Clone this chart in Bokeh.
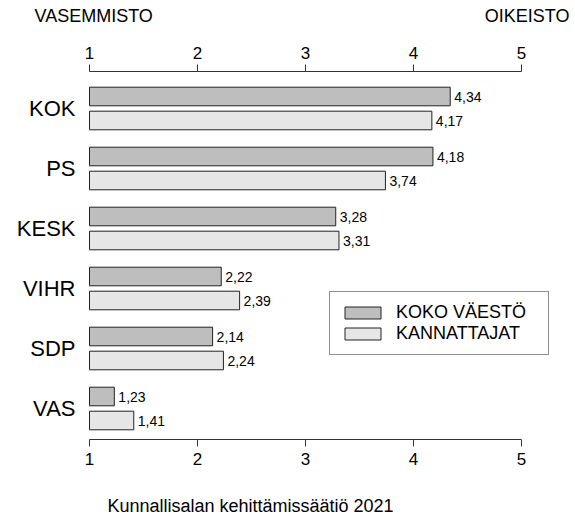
from bokeh.plotting import figure
from bokeh.models import (Range1d, LinearAxis, FixedTicker, Legend,
                          LegendItem, ColumnDataSource, Label)
from bokeh.embed import file_html
from bokeh.resources import INLINE
from bokeh.core.properties import value

# ---- data ----
parties = ["KOK", "PS", "KESK", "VIHR", "SDP", "VAS"]
koko_vaesto = [4.34, 4.18, 3.28, 2.22, 2.14, 1.23]
kannattajat = [4.17, 3.74, 3.31, 2.39, 2.24, 1.41]
x_ticks = [1, 2, 3, 4, 5]
series_names = ["KOKO VÄESTÖ", "KANNATTAJAT"]
left_title = "VASEMMISTO"
right_title = "OIKEISTO"
footer = "Kunnallisalan kehittämissäätiö 2021"

FONT = "Liberation Sans"
DARK = "#bebebe"
LIGHT = "#e6e6e6"
EDGE = "#222222"
AXIS = "#333333"

W, H = 575, 517
XU = 108.0     # pixels per x unit
X1 = 89.0      # pixel column of x = 1
YU = 60.0      # pixels per party row
Y_TOP_ROW = 108.0   # pixel row of the first party's centre

n = len(parties)
ypos = [n - 1 - i for i in range(n)]
off = 0.2
bh = 0.31


def fx(px):
    return 1 + (px - X1) / XU


def fy(py):
    return (n - 1) + (Y_TOP_ROW - py) / YU


def fmt(v):
    return f"{v:.2f}".replace(".", ",")


src_a = ColumnDataSource(dict(y=[y + off for y in ypos], right=koko_vaesto,
                              lab=[fmt(v) for v in koko_vaesto]))
src_b = ColumnDataSource(dict(y=[y - off for y in ypos], right=kannattajat,
                              lab=[fmt(v) for v in kannattajat]))

p = figure(width=W, height=H, output_backend="svg", toolbar_location=None,
           x_axis_type=None, y_axis_type=None,
           x_range=Range1d(fx(0), fx(W)), y_range=Range1d(fy(H), fy(0)),
           min_border_left=0, min_border_right=0,
           min_border_top=0, min_border_bottom=0)
p.outline_line_color = None
p.xgrid.visible = False
p.ygrid.visible = False
p.background_fill_color = "white"
p.border_fill_color = "white"

ra = p.hbar(y="y", right="right", left=1, height=bh, source=src_a,
            fill_color=DARK, line_color=EDGE, line_width=1)
rb = p.hbar(y="y", right="right", left=1, height=bh, source=src_b,
            fill_color=LIGHT, line_color=EDGE, line_width=1)

for s in (src_a, src_b):
    p.text(x="right", y="y", text="lab", source=s, x_offset=4,
           text_baseline="middle", text_align="left",
           text_font=value(FONT), text_font_size="14px", text_color="black")


def x_axis(loc):
    ax = LinearAxis(fixed_location=loc)
    ax.ticker = FixedTicker(ticks=x_ticks)
    ax.bounds = (x_ticks[0], x_ticks[-1])
    ax.axis_line_color = AXIS
    ax.major_tick_line_color = AXIS
    ax.major_tick_out = 7
    ax.major_tick_in = 0
    ax.minor_tick_line_color = None
    ax.major_label_text_font = FONT
    ax.major_label_text_font_size = "17px"
    ax.major_label_text_color = "black"
    ax.major_label_standoff = 6
    return ax


p.add_layout(x_axis(fy(71)), "above")
p.add_layout(x_axis(fy(439)), "below")

ya = LinearAxis(fixed_location=fx(81))
ya.ticker = FixedTicker(ticks=ypos)
ya.major_label_overrides = {y: name for y, name in zip(ypos, parties)}
ya.axis_line_color = None
ya.major_tick_line_color = None
ya.minor_tick_line_color = None
ya.major_tick_out = 0
ya.major_tick_in = 0
ya.major_label_text_font = FONT
ya.major_label_text_font_size = "22px"
ya.major_label_text_color = "black"
ya.major_label_standoff = 6
p.add_layout(ya, "left")

p.add_layout(Label(x=fx(34), y=fy(15.5), text=left_title, text_align="left",
                   text_baseline="middle", text_font=FONT,
                   text_font_size="18px", text_color="black"))
p.add_layout(Label(x=fx(569), y=fy(15.5), text=right_title,
                   text_align="right", text_baseline="middle",
                   text_font=FONT, text_font_size="18px",
                   text_color="black"))
p.add_layout(Label(x=fx(250), y=fy(505), text=footer, text_align="center",
                   text_baseline="middle", text_font=FONT,
                   text_font_size="18px", text_color="black"))

legend = Legend(items=[LegendItem(label=series_names[0], renderers=[ra]),
                       LegendItem(label=series_names[1], renderers=[rb])],
                location=(329, H - 355), orientation="vertical",
                glyph_width=45, glyph_height=15, label_height=15,
                label_width=142, label_standoff=11, spacing=0, padding=10,
                margin=0,
                border_line_color=EDGE, border_line_width=1,
                background_fill_color="white", background_fill_alpha=1,
                label_text_font=FONT, label_text_font_size="18px",
                label_text_color="black")
p.add_layout(legend, "center")

open("out.html", "w").write(file_html(p, INLINE))
